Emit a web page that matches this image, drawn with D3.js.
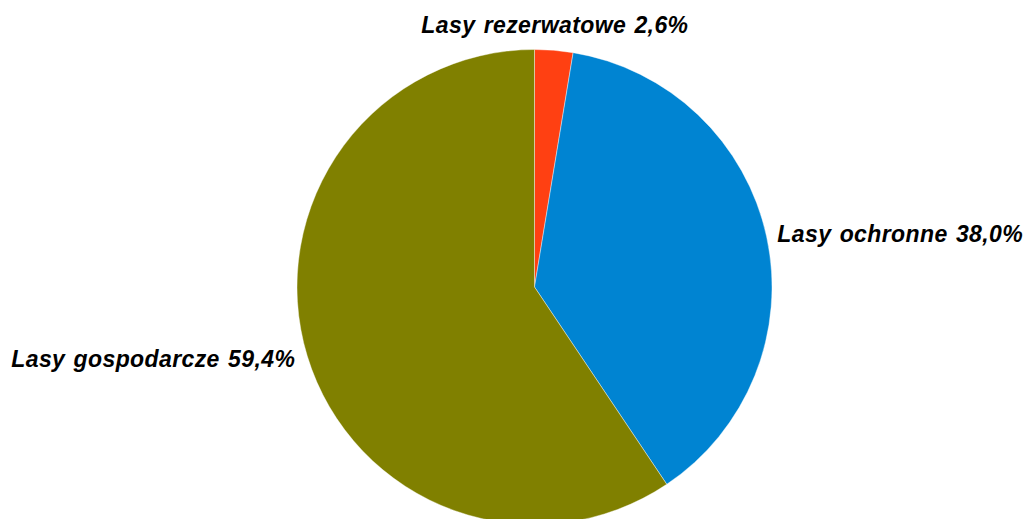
<!DOCTYPE html>
<html><head><meta charset="utf-8">
<script src="https://cdn.jsdelivr.net/npm/d3@7"></script>
<style>html,body{margin:0;padding:0;background:#fff;}svg{display:block;}</style>
</head><body>
<svg id="chart" width="1025" height="519"></svg>
<script>
const categories = ["Lasy rezerwatowe", "Lasy ochronne", "Lasy gospodarcze"];
const values = [2.6, 38.0, 59.4];
const valueLabels = ["2,6%", "38,0%", "59,4%"];
const colors = ["#FF4012", "#0084D2", "#808000"];

const svg = d3.select("#chart");
const cx = 534.5, cy = 287, r = 237.5;
const g = svg.append("g").attr("transform", `translate(${cx},${cy})`);
const data = categories.map((c, i) => ({name: c, value: values[i], label: valueLabels[i], color: colors[i]}));
const pie = d3.pie().value(d => d.value).sort(null);
const arc = d3.arc().innerRadius(0).outerRadius(r);
const arcs = pie(data);
g.selectAll("path").data(arcs).join("path")
  .attr("d", arc).attr("fill", d => d.data.color)
  .attr("stroke", "#ffffff").attr("stroke-width", 0.4);

const labelR = 250;
g.selectAll("text").data(arcs).join("text")
  .each(function(d) {
    const a = (d.startAngle + d.endAngle) / 2;
    const s = Math.sin(a), c = Math.cos(a);
    let x = labelR * s, y = -labelR * c, anchor;
    if (Math.abs(s) < 0.3) { anchor = "middle"; y -= 12; }
    else { anchor = s > 0 ? "start" : "end"; x += s > 0 ? -1.5 : 0; }
    d3.select(this).attr("x", x).attr("y", y).attr("dy", "0.33em").attr("text-anchor", anchor);
  })
  .attr("font-family", "Liberation Sans, Arial, sans-serif")
  .attr("font-weight", "bold").attr("font-style", "italic")
  .attr("font-size", 23).attr("fill", "#000")
  .attr("letter-spacing", 0.4).attr("word-spacing", 1.5)
  .text(d => `${d.data.name} ${d.data.label}`);
</script>
</body></html>
